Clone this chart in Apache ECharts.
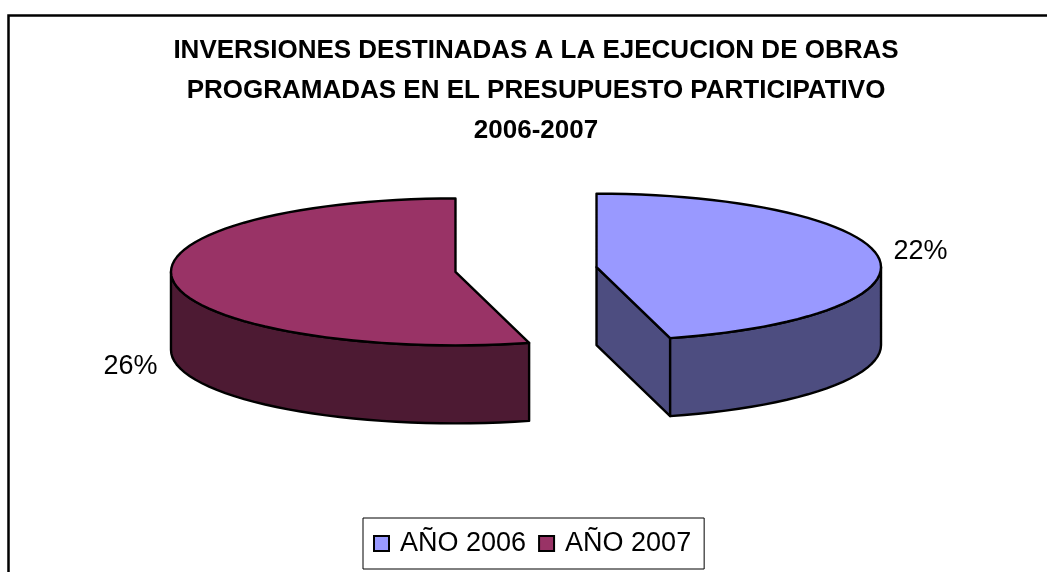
<!DOCTYPE html>
<html>
<head>
<meta charset="utf-8">
<style>
  html, body { margin: 0; padding: 0; background: #fff; overflow: hidden; }
  #chart { width: 1047px; height: 572px; }
</style>
<script src="https://cdn.jsdelivr.net/npm/echarts@6/dist/echarts.min.js"></script>
</head>
<body>
<div id="chart"></div>
<script>
const titleLines = [
  'INVERSIONES DESTINADAS A LA EJECUCION DE OBRAS',
  'PROGRAMADAS EN EL PRESUPUESTO PARTICIPATIVO',
  '2006-2007'
];
const categories = ['AÑO 2006', 'AÑO 2007'];
const values = [22, 26];
const topColors = ['#9999FF', '#993366'];
const wallColors = ['#4D4D80', '#4D1A33'];

// geometria del pastel 3D
const cx = 526, cy = 269.5, rx = 284.5, ry = 73.5, depth = 78, explode = 0.25;
const labelOffsets = [[42, -6], [-43, 85]];
const total = values.reduce((a, b) => a + b, 0);

function rad(deg) { return deg * Math.PI / 180; }

function rimPoint(c, deg, dy) {
  return [c[0] + rx * Math.sin(rad(deg)), c[1] - ry * Math.cos(rad(deg)) + (dy || 0)];
}

function arc(c, from, to, dy) {
  const pts = [];
  const n = Math.max(1, Math.ceil((to - from) / 3));
  for (let i = 0; i <= n; i++) pts.push(rimPoint(c, from + (to - from) * i / n, dy));
  return pts;
}

function renderSlice(idx) {
  const before = values.slice(0, idx).reduce((a, b) => a + b, 0);
  const start = before / total * 360;
  const end = (before + values[idx]) / total * 360;
  const mid = (start + end) / 2;
  // cada sector se separa del centro sobre su bisectriz
  const c = [cx + explode * rx * Math.sin(rad(mid)), cy - explode * ry * Math.cos(rad(mid))];
  const line = { stroke: '#000', lineWidth: 2.4, lineJoin: 'round' };
  const children = [];
  const addPoly = (points, fill) => children.push({
    type: 'polygon',
    shape: { points: points },
    style: Object.assign({ fill: fill }, line)
  });

  // cara del corte, solo si mira hacia adelante
  [[end, end < 180], [start, start > 180]].forEach(function (cut) {
    if (!cut[1]) return;
    const p = rimPoint(c, cut[0]);
    addPoly([c, p, [p[0], p[1] + depth], [c[0], c[1] + depth]], wallColors[idx]);
  });

  // pared exterior visible
  const from = Math.max(start, 90), to = Math.min(end, 270);
  if (to > from) {
    addPoly(arc(c, from, to).concat(arc(c, from, to, depth).reverse()), wallColors[idx]);
  }

  // tapa
  addPoly([c].concat(arc(c, start, end)), topColors[idx]);

  const anchor = rimPoint(c, mid);
  children.push({
    type: 'text',
    style: {
      x: anchor[0] + labelOffsets[idx][0],
      y: anchor[1] + labelOffsets[idx][1],
      text: values[idx] + '%',
      fill: '#000',
      font: '27px "Liberation Sans", Arial, sans-serif',
      align: 'center',
      verticalAlign: 'middle'
    }
  });
  return { type: 'group', children: children };
}

const chart = echarts.init(document.getElementById('chart'));
chart.setOption({
  animation: false,
  backgroundColor: '#fff',
  title: {
    text: titleLines.join('\n'),
    left: 531,
    top: 26,
    textAlign: 'center',
    textStyle: {
      fontFamily: '"Liberation Sans", Arial, sans-serif',
      fontSize: 26,
      fontWeight: 'bold',
      color: '#000',
      lineHeight: 40
    }
  },
  legend: {
    left: 363,
    top: 518,
    padding: [12, 13, 12, 10],
    itemGap: 12,
    itemWidth: 15,
    itemHeight: 15,
    icon: 'rect',
    borderColor: '#000',
    borderWidth: 1,
    data: categories,
    textStyle: {
      fontFamily: '"Liberation Sans", Arial, sans-serif',
      fontSize: 27,
      color: '#000',
      padding: [0, 0, 2, 6]
    }
  },
  graphic: [{
    type: 'rect',
    shape: { x: 8.5, y: 15.5, width: 1200, height: 800 },
    style: { fill: 'none', stroke: '#000', lineWidth: 2.5 },
    silent: true
  }],
  series: categories.map(function (name, i) {
    return {
      type: 'custom',
      name: name,
      coordinateSystem: 'none',
      data: [values[i]],
      itemStyle: { color: topColors[i], borderColor: '#000', borderWidth: 2 },
      renderItem: function () { return renderSlice(i); }
    };
  })
});
</script>
</body>
</html>
